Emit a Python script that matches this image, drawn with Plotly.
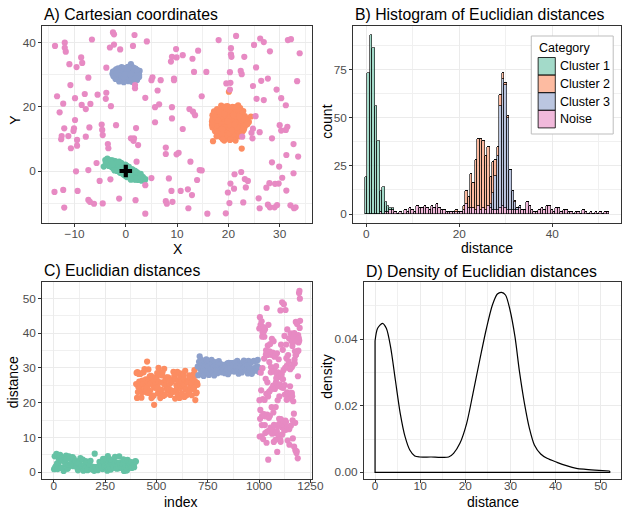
import numpy as np
import plotly.graph_objects as go

# ---------------------------------------------------------------- data
categories = ["Cluster 1", "Cluster 2", "Cluster 3", "Noise"]
set2 = ["#66C2A5", "#FC8D62", "#8DA0CB", "#E78AC3"]

# Cartesian coordinates of the points, per category (row order = index order)
c1_x = [-0.2, -3.1, 1.4, -1.6, -4.0, 2.4, -0.7, 0.9, -2.1, 3.7, -3.5, 0.4, 1.9, -1.2, -2.6, 3.0,
        -0.1, -3.0, 1.5, -1.5, -3.8, 2.5, -0.6, 1.0, -2.0, -4.3, -3.4, 0.5, 2.0, -1.1, -2.5, 3.1,
        0.0, -2.9, 1.6, -1.4, 2.6, -0.5, 1.1, -1.9, 0.5, 2.1, -1.0, -2.4, 3.4,
        0.1, 1.7, -1.4, 2.8, -0.4, 1.2, -1.8, 0.7, 2.2, -0.9, -2.3,
        0.2, 1.8, -1.3, -0.4, 1.2, -1.8, 0.6, -0.9,
        0.2, -0.3, -0.8,
        0.3, -3.6, 0.9, -1.1, 0.1, 1.3, -0.5, -0.8,
        1.3, -2.7, 0.2, -0.6, 2.3, -1.7, 0.8, -3.2, 1.6, -0.3,
        0.6, -2.0, 2.7, -1.2, 0.0, -3.9, 1.1, -0.8, 3.3, -1.6,
        0.4, -2.4, 2.0, -0.1, 1.5, -0.7, 0.9, -2.9, 2.5, -1.9,
        0.3, -1.0, 1.8, -0.5, 3.8, -2.2, 0.7, -1.4, 1.2, -0.2,
        2.2, -3.3, 0.1, -1.1, 1.4, -2.6, 0.5, -0.4, 2.9, -1.5,
        1.0, -0.9, 0.2, -2.1, 1.7,
        -1.0, 0.6, -2.2, 1.9, -0.2, 1.0, -1.3, 2.9]
c1_y = [0.8, 3.3, -0.3, 0.3, 3.4, -0.8, 0.5, -2.0, 3.1, -2.9, 3.5, 1.1, -2.7, -0.2, 3.3, -1.6,
        -0.3, 1.5, -2.4, 1.8, 2.8, -2.8, -0.8, 0.1, 0.6, 1.4, 1.9, -1.8, -0.6, 1.8, 1.0, -3.0,
        1.7, 2.6, -1.0, 2.6, -1.7, 1.8, -0.9, 1.9, 0.1, -1.6, 0.7, 2.3, -2.1,
        -1.5, 0.1, 0.8, -2.2, 0.1, 0.6, 1.1, -0.8, -2.3, 2.5, 1.6,
        0.5, -1.7, 1.4, 1.2, -1.6, 2.7, 0.7, -0.4,
        -0.7, -1.0, 1.3,
        -0.2, 3.9, -1.1, 0.9, 0.8, -0.7, -0.2, 0.6,
        0.4, 1.2, -1.9, 2.0, -1.0, 0.0, 0.3, 2.1, -2.6, 1.5,
        -1.5, 2.9, -2.8, -0.4, 0.4, 2.5, -2.2, -0.2, -1.8, 2.6,
        -0.6, 0.8, -2.6, 2.0, -0.3, 1.0, -2.4, 3.3, -1.4, 1.3,
        0.9, 2.4, -0.7, -1.0, -2.5, 1.6, -1.9, 0.3, -0.5, 1.2,
        -0.4, 1.6, -0.3, 0.5, -1.7, 2.2, 0.0, -0.3, -2.0, 1.0,
        -1.2, 2.5, 1.6, 0.4, -2.3,
        -0.6, 1.3, 0.2, -0.1, -1.4, -2.7, 2.9, -0.9]

c2_x = [20.3, 20.6, 17.4, 23.2, 20.4, 19.8, 19.8, 22.2, 17.3, 21.0,
        22.4, 24.0, 19.2, 18.0, 19.6, 21.9, 17.2, 23.6, 18.7, 22.3,
        17.7, 22.1, 22.4, 16.9, 19.7, 20.1, 20.4, 19.9, 22.9, 19.2,
        22.1, 18.6, 21.4, 20.7, 21.3, 17.9, 21.7, 16.9, 19.4, 19.5,
        19.5, 17.0, 17.8, 21.0, 23.3, 18.7, 18.2, 23.1, 22.0, 21.5,
        16.8, 21.9, 22.8, 17.1, 22.2, 18.5, 22.6, 19.6, 18.2, 23.0,
        21.4, 20.3, 18.8, 21.5, 24.4, 17.9, 18.3, 20.8, 21.3, 20.2,
        18.6, 21.3, 22.6, 19.0, 18.9, 20.5, 20.1, 19.1, 17.8, 21.2,
        20.6,
        21.8, 18.4, 20.9, 17.5, 22.7, 19.3, 20.0, 23.5, 18.1, 21.1,
        16.9, 22.0, 19.5, 20.8, 17.6, 23.0, 19.0, 21.6, 18.9, 20.3,
        22.4, 17.3, 20.6, 19.9, 23.4, 18.5, 21.2, 19.4, 22.9, 17.9,
        20.5, 21.9, 18.7, 20.9, 16.8, 22.5, 19.7, 21.4, 18.2, 20.2,
        23.7, 19.1, 21.0, 17.4, 22.2, 20.1, 18.6, 21.7, 19.6, 22.8,
        18.0, 20.7, 21.5, 19.2, 17.7, 22.1, 20.4, 18.8, 21.2, 19.8]
c2_y = [15.2, 19.8, 12.4, 17.1, 10.7, 14.4, 20.2, 13.6, 16.6, 18.9,
        11.2, 15.3, 9.5, 14.3, 17.6, 12.7, 18.6, 16.4, 13.8, 19.6,
        15.7, 10.8, 14.6, 17.4, 11.7, 24.7, 13.7, 16.4, 18.7, 12.3,
        15.4, 20.4, 9.5, 14.8, 17.8, 11.6, 16.2, 13.6, 18.8, 15.6,
        10.3, 9.3, 19.3, 12.2, 14.2, 17.3, 16.3, 13.4, 18.2, 11.6,
        15.4, 20.5, 12.4, 14.6, 17.4, 10.6, 16.6, 13.4, 18.3, 15.7,
        19.2, 9.7, 11.3, 14.3, 17.0, 17.7, 12.7, 16.7, 13.2, 18.4,
        15.3, 10.4, 7.0, 19.6, 14.7, 17.2, 12.6, 16.8, 13.3, 15.8,
        11.4,
        14.1, 19.1, 10.1, 15.1, 17.9, 12.9, 18.9, 15.0, 11.0, 16.2,
        16.2, 11.9, 14.2, 20.0, 13.9, 12.9, 15.1, 18.6, 9.9, 13.0,
        15.9, 17.9, 15.9, 10.9, 16.0, 16.9, 12.8, 20.1, 14.0, 12.2,
        14.1, 19.3, 14.6, 11.5, 14.4, 13.2, 16.9, 15.1, 18.6, 11.8,
        14.6, 13.6, 17.4, 16.9, 10.9, 16.1, 12.0, 13.5, 18.4, 16.4,
        15.8, 12.6, 20.0, 17.8, 10.8, 17.0, 9.9, 13.1, 14.5, 15.5]

c3_x = [-2.6, -1.3, -1.9, 1.0, -2.4, -0.8, -2.3, -2.0,
        -1.8, -0.4, -1.0, -1.2, -1.5, 0.4, -1.5, -1.1,
        -0.9, 0.5, 0.0, 0.5, -0.6, 1.4, -0.6, -0.2,
        0.0, 1.2, 0.9, -0.3, 0.3, 0.3, 0.7,
        0.8, 1.9, 1.4, 1.1, 1.2, 1.5,
        1.6, -1.9, 1.9, 2.1, 2.2,
        2.4, 0.9, 2.6, 2.7,
        -0.7, 1.7, -1.4, 0.1, 2.0, -2.1, -0.2, 0.6,
        0.4, -1.6, 1.8, -0.5, 2.3, -2.2, 0.9, -1.0, 1.3, -0.1,
        -2.5, 2.0, -0.8, 0.6, -1.7, 1.5, -0.3, 2.5, -1.3, 0.2,
        -2.0, 1.1, -0.6, 1.7, -1.1, 0.7, -2.3, 2.2, 0.0, -0.9,
        1.4, -1.5, 0.3, 2.6, -0.4, 1.0, -1.8, 0.5, -0.2, 1.9]
c3_y = [30.3, 27.9, 31.7, 33.3, 29.5, 32.4, 31.1, 28.7,
        30.1, 27.7, 31.9, 30.6, 29.3, 32.5, 30.9, 28.5,
        30.4, 28.0, 31.8, 29.9, 29.6, 32.3, 31.2, 28.8,
        30.2, 27.8, 31.7, 30.7, 29.4, 30.9, 28.5,
        30.3, 31.9, 30.6, 29.2, 31.1, 28.7,
        30.0, 29.9, 29.6, 30.8, 28.4,
        30.4, 28.9, 29.3, 31.2,
        28.2, 31.4, 31.4, 29.0, 29.9, 30.7, 31.4, 31.4,
        30.5, 28.9, 31.0, 31.6, 29.0, 30.0, 32.0, 29.1, 28.3, 29.6,
        31.0, 30.2, 30.9, 28.7, 31.5, 29.7, 32.1, 30.7, 30.2, 31.1,
        29.3, 30.8, 28.4, 32.0, 31.0, 29.5, 29.8, 31.5, 28.3, 29.8,
        29.0, 32.0, 31.9, 29.9, 29.2, 30.0, 30.5, 32.3, 30.1, 28.8]

noise_x = [-13.8, 15.9, 1.0, 18.1, -13.9, -12.0, 1.7, 28.5,
           -11.9, 19.5, 1.6, 20.5, -12.2, -10.2, 1.4, 29.9,
           -11.9, 19.9, 1.5, 20.5, -12.0, -10.1, 4.1, 32.7,
           -11.7, 20.4, 2.0, 20.6, -9.4, -12.6, 1.8, 33.6,
           -11.0, 20.2, 2.4, 21.5, -7.3, -12.5, 1.8, 32.7,
           -8.7, 21.1, 2.1, 23.1, -7.0, -11.2, 3.8, 31.3,
           -8.5, 23.2, 5.7, 20.3, -6.2, -10.7, 5.0, 28.5,
           -9.6, 23.8, 9.0, 22.4, -4.5, -9.5, 5.2, 31.5,
           -7.3, 22.9, 11.1, 22.6, -1.3, -9.5, 6.8, 30.0,
           -10.8, 23.4, 9.9, 19.6, 1.9, -9.9, 6.2, 25.3,
           -13.4, 25.9, 10.3, 20.4, 3.8, -7.8, 5.7, 26.1,
           -9.9, 26.1, 7.8, 20.3, 3.8, -7.1, 6.5, 24.8,
           -8.0, 27.4, 7.8, 25.0, 8.4, -4.7, 9.0, 24.5,
           -5.5, 28.0, 12.6, 26.2, 8.9, -4.6, 8.8, 24.7,
           -12.2, 29.1, 14.4, 26.9, 9.1, -4.5, 9.8, 22.7,
           -8.6, 29.8, 14.8, 28.1, 7.8, -1.9, 9.9, 30.3,
           -7.8, 30.5, 12.4, 25.4, 8.0, -3.5, 9.4, 31.2,
           -6.9, 31.3, 13.1, 26.4, 10.7, -3.4, 9.4, 21.2,
           -3.8, 27.7, 13.5, 27.7, 12.1, -12.9, 11.1, 22.5,
           -3.9, 28.1, 9.0, 24.8, 12.9, -9.7, 13.0,
           -2.9, 29.0, 29.4, 12.2, -7.3, 14.1,
           -3.8, 29.5, 26.9, 13.9, -5.7, 13.3,
           -2.5, 32.1, 25.5, 5.0, -5.1, 15.7,
           -2.3, 32.8, 30.3, -3.0, 14.8,
           -2.3, 33.1, 31.2,
           -3.1, 31.6,
           -1.1, 32.2,
           -6.6, 33.9,
           33.4]
noise_y = [39.0, -13.3, 10.2, 40.8, -6.5, 13.3, 42.4, 2.7,
           40.0, -13.2, 10.2, 38.3, -5.9, 12.5, 39.0, 1.4,
           38.4, -6.7, 9.4, 36.4, -11.4, 13.3, 40.4, -0.7,
           37.2, -3.9, 13.4, 35.6, -6.2, 9.9, 26.8, 4.5,
           33.3, -10.0, 8.1, 42.1, -9.0, 10.9, 25.8, 8.4,
           35.4, -5.5, 2.9, 35.6, -9.6, 10.9, 22.8, 5.0,
           33.7, -2.5, 15.2, 30.8, -10.2, 7.1, 28.3, 10.2,
           32.4, -3.1, 16.4, 31.2, -10.1, 7.9, 29.2, 13.8,
           29.1, -9.8, 13.1, 30.2, -8.6, 9.7, 28.3, 14.3,
           26.8, -5.1, 5.2, 27.3, -9.1, 15.9, 25.1, 17.1,
           23.3, -8.5, 5.7, 27.5, -4.4, 10.7, 19.9, 12.1,
           22.7, -11.6, 7.3, 25.4, -13.3, 13.6, 20.8, 13.2,
           24.0, -5.2, 5.3, 39.3, -2.3, 14.5, 35.6, 11.9,
           23.8, -3.8, 2.9, 41.3, -6.2, 12.8, 34.1, 10.2,
           21.0, -4.0, 0.3, 40.2, -9.6, 11.2, 38.0, 10.7,
           20.6, -3.9, 0.2, 37.3, -9.4, 14.3, 35.4, 12.6,
           19.3, -2.1, 19.3, 32.3, -10.2, 8.4, 28.8, 12.8,
           20.9, -6.1, 18.5, 28.1, -6.2, 7.1, 28.3, -1.0,
           24.4, -10.5, 17.4, 28.8, -5.7, 18.3, 36.1, -0.3,
           22.5, -11.3, 19.9, 26.5, -7.5, -0.1, 35.0,
           20.2, -11.3, 25.4, -11.6, 0.3, 37.5,
           32.2, -10.6, 22.1, -2.8, 2.5, 30.9,
           43.2, -10.7, 22.5, -2.2, -3.1, 30.9,
           42.6, -11.6, 22.7, -2.6, 23.3,
           39.4, -11.3, 20.5,
           38.5, 40.8,
           37.9, 41.1,
           41.0, 36.7,
           28.0]

# reference point (origin) marked with a cross
origin_x = [0.0]
origin_y = [0.0]

# row-index span of each category in the data table
index_start = [1, 401, 701, 1001]
index_end = [400, 700, 1000, 1200]

# histogram of distances: 100 bins
hist_first_center = 0.05
hist_bin_width = 0.525
hist_c1 = [19, 73, 93, 86, 56, 38, 11, 14, 5, 3, 1, 1, 0, 0, 0, 0, 0, 0, 0, 0,
           0, 0, 0, 0, 0, 0, 0, 0, 0, 0, 0, 0, 0, 0, 0, 0, 0, 0, 0, 0,
           0, 0, 0, 0, 0, 0, 0, 0, 0, 0, 0, 0, 0, 0, 0, 0, 0, 0, 0, 0,
           0, 0, 0, 0, 0, 0, 0, 0, 0, 0, 0, 0, 0, 0, 0, 0, 0, 0, 0, 0,
           0, 0, 0, 0, 0, 0, 0, 0, 0, 0, 0, 0, 0, 0, 0, 0, 0, 0, 0, 0]
hist_c2 = [0, 0, 0, 0, 0, 0, 0, 0, 0, 0, 0, 0, 0, 0, 0, 0, 0, 0, 0, 0,
           0, 0, 0, 0, 0, 0, 0, 0, 0, 0, 0, 0, 0, 0, 0, 0, 0, 1, 0, 0,
           2, 7, 6, 18, 13, 26, 35, 37, 35, 28, 31, 14, 16, 8, 5, 6, 3, 1, 1, 0,
           0, 1, 0, 0, 0, 0, 0, 0, 0, 0, 0, 0, 0, 0, 0, 0, 0, 0, 0, 0,
           0, 0, 0, 0, 0, 0, 0, 0, 0, 0, 0, 0, 0, 0, 0, 0, 0, 0, 0, 0]
hist_c3 = [0, 0, 0, 0, 0, 0, 0, 0, 0, 0, 0, 0, 0, 0, 0, 0, 0, 0, 0, 0,
           0, 0, 0, 0, 0, 0, 0, 0, 0, 0, 0, 0, 0, 0, 0, 0, 0, 0, 0, 0,
           0, 0, 0, 0, 0, 0, 0, 0, 0, 0, 0, 2, 9, 18, 28, 53, 66, 64, 48, 21,
           10, 4, 1, 1, 0, 0, 0, 0, 0, 0, 0, 0, 0, 0, 0, 0, 0, 0, 0, 0,
           0, 0, 0, 0, 0, 0, 0, 0, 0, 0, 0, 0, 0, 0, 0, 0, 0, 0, 0, 0]
hist_noise = [0, 0, 0, 0, 0, 0, 1, 0, 1, 1, 2, 2, 1, 0, 1, 0, 2, 1, 3, 2,
              1, 4, 3, 3, 4, 3, 2, 4, 3, 5, 3, 2, 2, 1, 1, 1, 1, 1, 1, 1,
              2, 5, 3, 3, 3, 2, 4, 2, 3, 2, 4, 3, 2, 2, 2, 3, 4, 3, 2, 2,
              2, 2, 2, 3, 2, 2, 6, 4, 2, 1, 1, 2, 3, 2, 4, 4, 2, 1, 3, 3,
              1, 2, 2, 1, 1, 0, 1, 1, 0, 2, 1, 0, 1, 0, 1, 0, 1, 0, 1, 1]

# kernel density estimate of all distances
dens_x = [0.0, 0.57, 1.65, 2.5, 3.43, 4.5, 5.58, 6.65, 7.7, 8.8, 9.9, 12.4, 14.5,
          16.3, 17.4, 18.8, 20.3, 21.7, 23.2, 24.6, 26.0, 27.1, 28.0, 28.9, 29.9,
          31.0, 32.0, 33.1, 34.2, 35.3, 36.7, 38.1, 40.3, 42.4, 44.6, 46.7, 49.6, 52.0]
dens_y = [0.0394, 0.0432, 0.0447, 0.0432, 0.0377, 0.0277, 0.0177, 0.0107, 0.0067,
          0.0049, 0.0046, 0.0046, 0.0045, 0.0046, 0.0057, 0.0087, 0.0147, 0.0237,
          0.0337, 0.0427, 0.0502, 0.0535, 0.0540, 0.0532, 0.0487, 0.0407, 0.0302,
          0.0207, 0.0132, 0.0082, 0.0055, 0.0042, 0.0030, 0.0020, 0.0012, 0.0009,
          0.0006, 0.0004]

# ---------------------------------------------------------------- helpers
W, H = 635, 511
FONT = "Liberation Sans, Arial, Helvetica, sans-serif"


def px_x(p):
    return p / W


def px_y(p):
    return 1 - p / H


def rgba(hex_color, a):
    h = hex_color.lstrip("#")
    r, g, b = int(h[0:2], 16), int(h[2:4], 16), int(h[4:6], 16)
    return f"rgba({r},{g},{b},{a})"


def axis(domain, rng, tickvals, minor_vals, anchor, label_standoff):
    return dict(
        domain=domain, range=rng, anchor=anchor,
        tickvals=tickvals, ticks="outside", ticklen=3, tickwidth=1.1,
        tickcolor="#333333", tickfont=dict(family=FONT, size=11.8, color="#4D4D4D"),
        ticklabelstandoff=label_standoff,
        showline=True, linecolor="#333333", linewidth=1.1, mirror=True,
        showgrid=True, gridcolor="#EBEBEB", gridwidth=1.1, zeroline=False,
        minor=dict(tickvals=minor_vals, showgrid=True, gridcolor="#F0F0F0",
                   gridwidth=0.6, ticks=""),
        fixedrange=True,
    )


cats_xy = [(c1_x, c1_y), (c2_x, c2_y), (c3_x, c3_y), (noise_x, noise_y)]

fig = go.Figure()

# ---------------------------------------------------------------- A) scatter
for (xs, ys), name, col in zip(cats_xy, categories, set2):
    fig.add_trace(go.Scatter(
        x=xs, y=ys, mode="markers", name=name, showlegend=False,
        marker=dict(color=col, size=6.2, line=dict(width=0)),
        xaxis="x", yaxis="y"))
fig.add_trace(go.Scatter(
    x=origin_x, y=origin_y, mode="markers", showlegend=False,
    marker=dict(symbol="cross", color="black", size=10.5, line=dict(width=0)),
    xaxis="x", yaxis="y"))

# ---------------------------------------------------------------- B) stacked histogram
n_bins = len(hist_noise)
centers = hist_first_center + hist_bin_width * np.arange(n_bins)
for counts, name, col in [(hist_noise, "Noise", set2[3]),
                          (hist_c3, "Cluster 3", set2[2]),
                          (hist_c2, "Cluster 2", set2[1]),
                          (hist_c1, "Cluster 1", set2[0])]:
    fig.add_trace(go.Bar(
        x=centers, y=counts, width=hist_bin_width, name=name, showlegend=False,
        marker=dict(color=rgba(col, 0.6), line=dict(color="black", width=0.6)),
        xaxis="x2", yaxis="y2"))

# ---------------------------------------------------------------- C) distance vs index
for (xs, ys), name, col, i0, i1 in zip(cats_xy, categories, set2, index_start, index_end):
    d = np.hypot(np.asarray(xs), np.asarray(ys))
    idx = np.linspace(i0, i1, len(xs))
    fig.add_trace(go.Scatter(
        x=idx, y=d, mode="markers", name=name, showlegend=False,
        marker=dict(color=col, size=6.2, line=dict(width=0)),
        xaxis="x3", yaxis="y3"))

# ---------------------------------------------------------------- D) density
fig.add_trace(go.Scatter(
    x=dens_x, y=dens_y, mode="lines",
    line=dict(color="black", width=1.2, shape="spline", smoothing=0.8),
    showlegend=False, xaxis="x4", yaxis="y4"))
fig.add_trace(go.Scatter(
    x=[dens_x[-1], dens_x[-1], dens_x[0], dens_x[0]],
    y=[dens_y[-1], 0, 0, dens_y[0]], mode="lines",
    line=dict(color="black", width=1.2), showlegend=False, xaxis="x4", yaxis="y4"))

# ---------------------------------------------------------------- layout
dom_left = [px_x(43), px_x(318)]
dom_B = [px_x(360), px_x(633)]
dom_D = [px_x(371), px_x(633)]
dom_top = [px_y(223), px_y(26)]
dom_bot = [px_y(479), px_y(282)]

fig.update_layout(
    width=W, height=H, margin=dict(l=0, r=0, t=0, b=0),
    paper_bgcolor="white", plot_bgcolor="white",
    font=dict(family=FONT, color="black"),
    barmode="stack", bargap=0, showlegend=False,
    xaxis=axis(dom_left, [-16.3, 36.3], [-10, 0, 10, 20, 30], [-15, -5, 5, 15, 25, 35],
               "y", -3),
    yaxis=axis(dom_top, [-16.2, 45.2], [0, 20, 40], [-10, 10, 30], "x", 0),
    xaxis2=axis(dom_B, [-2.8, 54.8], [0, 20, 40], [10, 30, 50], "y2", -3),
    yaxis2=axis(dom_top, [-4.65, 97.65], [0, 25, 50, 75], [12.5, 37.5, 62.5, 87.5],
                "x2", 0),
    xaxis3=axis(dom_left, [-57, 1258], [0, 250, 500, 750, 1000, 1250],
                [125, 375, 625, 875, 1125], "y3", -7),
    yaxis3=axis(dom_bot, [-2.0, 54.77], [0, 10, 20, 30, 40, 50],
                [5, 15, 25, 35, 45], "x3", 0),
    xaxis4=axis(dom_D, [-2.45, 54.5], [0, 10, 20, 30, 40, 50],
                [5, 15, 25, 35, 45], "y4", -7),
    yaxis4=axis(dom_bot, [-0.0020, 0.0571], [0, 0.02, 0.04], [0.01, 0.03, 0.05],
                "x4", 0),
)
fig.layout.yaxis4.tickformat = ".2f"

# panel titles
titles = [("A) Cartesian coordinates", 43, 14), ("B) Histogram of Euclidian distances", 360, 14),
          ("C) Euclidian distances", 43, 270), ("D) Density of Euclidian distances", 371, 271)]
for text, x0, yc in titles:
    fig.add_annotation(text=text, xref="paper", yref="paper", x=px_x(x0), y=px_y(yc),
                       xanchor="left", yanchor="middle", showarrow=False,
                       font=dict(family=FONT, size=15.8, color="black"))

# axis titles (top row centred at a pixel row, bottom row sits on the page edge)
axis_titles = [("X", 181.5, 249, 0), ("Y", 15, 120, -90),
               ("distance", 496.5, 248, 0), ("count", 333, 122, -90),
               ("distance", 13.5, 382, -90), ("density", 333, 377, -90)]
for text, xc, yc, ang in axis_titles:
    fig.add_annotation(text=text, xref="paper", yref="paper", x=px_x(xc), y=px_y(yc),
                       xanchor="center", yanchor="middle", showarrow=False, textangle=ang,
                       font=dict(family=FONT, size=14, color="black"))
for text, xc in [("index", 184), ("distance", 503)]:
    fig.add_annotation(text=text, xref="paper", yref="paper", x=px_x(xc), y=0,
                       xanchor="center", yanchor="bottom", showarrow=False, borderpad=0,
                       font=dict(family=FONT, size=14, color="black"))

# legend of the histogram
leg_x0, leg_x1, leg_y0, leg_y1 = 541.5, 625, 36, 134
fig.add_shape(type="rect", xref="paper", yref="paper",
              x0=px_x(leg_x0), x1=px_x(leg_x1), y0=px_y(leg_y1), y1=px_y(leg_y0),
              fillcolor="white", line=dict(color="#BDBDBD", width=1), layer="above")
fig.add_annotation(text="Category", xref="paper", yref="paper", x=px_x(547), y=px_y(48),
                   xanchor="left", yanchor="middle", showarrow=False,
                   font=dict(family=FONT, size=12.5, color="black"))
key_top = 57.5
key_h = 17.6
for i, (name, col) in enumerate(zip(categories, set2)):
    y0 = key_top + i * key_h
    fig.add_shape(type="rect", xref="paper", yref="paper",
                  x0=px_x(548.5), x1=px_x(566), y0=px_y(y0 + key_h), y1=px_y(y0),
                  fillcolor=rgba(col, 0.6), line=dict(color="black", width=0.8), layer="above")
    fig.add_annotation(text=name, xref="paper", yref="paper", x=px_x(569),
                       y=px_y(y0 + key_h / 2), xanchor="left", yanchor="middle",
                       showarrow=False, font=dict(family=FONT, size=12.5, color="black"))

fig.write_html("out.html")
